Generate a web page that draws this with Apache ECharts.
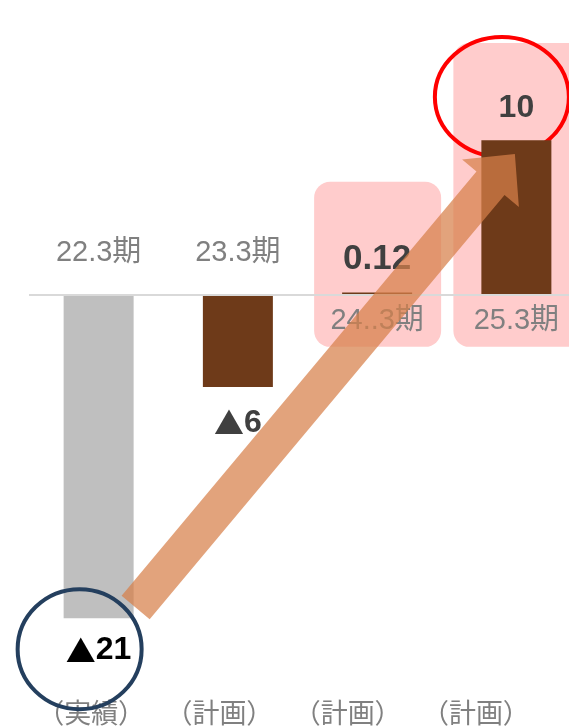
<!DOCTYPE html>
<html>
<head>
<meta charset="utf-8">
<style>
  html, body { margin: 0; padding: 0; background: #ffffff; }
  #chart { width: 569px; height: 728px; }
</style>
<script src="https://cdn.jsdelivr.net/npm/echarts@6/dist/echarts.min.js"></script>
</head>
<body>
<div id="chart"></div>
<script>
// Fiscal periods, plan/actual tags and the yearly figures
const periods = ['22.3期', '23.3期', '24..3期', '25.3期'];
const planTags = ['（実績）', '（計画）', '（計画）', '（計画）'];
const values = [-21, -6, 0.12, 10];

const LATIN = "'Liberation Sans', Arial, 'Noto Sans CJK JP', sans-serif";
const CJK = "'Noto Sans CJK JP', 'Noto Sans CJK SC', sans-serif";
const GREY_BAR = '#BFBFBF';
const BROWN_BAR = '#6E3A19';

const chart = echarts.init(document.getElementById('chart'), null, { renderer: 'canvas' });

// negative figures are written with a leading triangle instead of a minus sign
const fmtValue = v => (v < 0 ? '{t|▲}{n|' + Math.abs(v) + '}' : '{n|' + v + '}');

const barItems = values.map((v, i) => ({
  value: v,
  itemStyle: { color: planTags[i] === '（実績）' ? GREY_BAR : BROWN_BAR },
  label: {
    position: v < 0 ? 'bottom' : 'top',
    color: i === 0 ? '#000000' : '#404040',
    distance: i === 1 ? 20 : 16,
    rich: {
      t: { fontFamily: CJK, fontSize: 30, color: i === 0 ? '#000000' : '#404040' },
      n: {
        fontFamily: LATIN, fontWeight: 'bold',
        fontSize: Math.abs(v) < 1 ? 35 : 32,
        color: i === 0 ? '#000000' : '#404040'
      }
    }
  }
}));

const option = {
  animation: false,
  backgroundColor: '#ffffff',
  grid: [
    // the plot runs past the right edge of the canvas
    { left: 29, width: 557, top: 63, bottom: 48, outerBoundsMode: 'none', containLabel: false },
    // the plan/actual tags run on their own, slightly narrower row
    { left: 27, width: 513, top: 63, bottom: 48, outerBoundsMode: 'none', containLabel: false }
  ],
  xAxis: [
    {
      type: 'category',
      gridIndex: 0,
      data: periods,
      axisLine: { show: false },
      axisTick: { show: false },
      axisLabel: { show: false }
    },
    {
      type: 'category',
      gridIndex: 1,
      data: planTags,
      axisLine: { show: false },
      axisTick: { show: false },
      axisLabel: { interval: 0, fontFamily: CJK, fontSize: 27, color: '#808080', margin: 19 }
    }
  ],
  yAxis: [
    { type: 'value', gridIndex: 0, min: -25, max: 15, show: false },
    { type: 'value', gridIndex: 1, min: -25, max: 15, show: false }
  ],
  series: [
    {
      type: 'bar',
      data: barItems,
      barWidth: 70,
      z: 3,
      label: {
        show: true,
        formatter: p => fmtValue(p.value)
      },
      markLine: {
        silent: true,
        symbol: 'none',
        label: { show: false },
        lineStyle: { color: '#D9D9D9', width: 2, type: 'solid' },
        data: [{ yAxis: 0 }]
      }
    },
    {
      // period names sit on the side of the zero line opposite to the bar
      type: 'custom',
      z: 3,
      data: values.map((v, i) => [i, v]),
      renderItem: (params, api) => {
        const i = api.value(0);
        const v = api.value(1);
        const p = api.coord([i, 0]);
        return {
          type: 'text',
          style: {
            text: periods[i],
            x: p[0],
            y: v < 0 ? p[1] - 41 : p[1] + 27,
            align: 'center',
            verticalAlign: 'middle',
            fill: '#808080',
            font: '29px ' + LATIN
          }
        };
      }
    }
  ]
};

chart.setOption(option);

// Annotations anchored to the chart's own coordinate system
const px = (i, v) => chart.convertToPixel({ gridIndex: 0 }, [i, v]);

function boxFor(i, topVal, botVal, leftOff, rightOff) {
  const t = px(i, topVal), b = px(i, botVal);
  return {
    type: 'rect',
    z: 0,
    silent: true,
    shape: { x: t[0] + leftOff, y: t[1], width: rightOff - leftOff, height: b[1] - t[1], r: 16 },
    style: { fill: '#FFCCCC' }
  };
}

function blockArrow(tail, tip, halfShaft, halfHead, headLen) {
  const dx = tip[0] - tail[0], dy = tip[1] - tail[1];
  const len = Math.hypot(dx, dy);
  const ux = dx / len, uy = dy / len;
  const nx = -uy, ny = ux;
  const bx = tip[0] - ux * headLen, by = tip[1] - uy * headLen;
  return [
    [tail[0] + nx * halfShaft, tail[1] + ny * halfShaft],
    [bx + nx * halfShaft, by + ny * halfShaft],
    [bx + nx * halfHead, by + ny * halfHead],
    tip,
    [bx - nx * halfHead, by - ny * halfHead],
    [bx - nx * halfShaft, by - ny * halfShaft],
    [tail[0] - nx * halfShaft, tail[1] - ny * halfShaft]
  ];
}

const redC = px(3, 12.8);
const blueC = px(0, -23);
const tailP = px(0, -20.3);
const tipP = px(3, 9.1);

chart.setOption({
  graphic: [
    boxFor(2, 7.3, -3.4, -63, 64),
    boxFor(3, 16.3, -3.4, -63, 80),
    {
      type: 'ellipse',
      z: 1,
      silent: true,
      shape: { cx: redC[0] - 14.5, cy: redC[1], rx: 67, ry: 60 },
      style: { fill: 'none', stroke: '#FF0000', lineWidth: 4 }
    },
    {
      type: 'ellipse',
      z: 5,
      silent: true,
      shape: { cx: blueC[0] - 19, cy: blueC[1], rx: 62, ry: 60 },
      style: { fill: 'none', stroke: '#243F5E', lineWidth: 4 }
    },
    {
      type: 'polygon',
      z: 10,
      silent: true,
      shape: { points: blockArrow([tailP[0] + 37, tailP[1]], [tipP[0] - 1.5, tipP[1]], 18.3, 37, 38) },
      style: { fill: 'rgba(215,128,74,0.72)' }
    }
  ]
});
</script>
</body>
</html>
